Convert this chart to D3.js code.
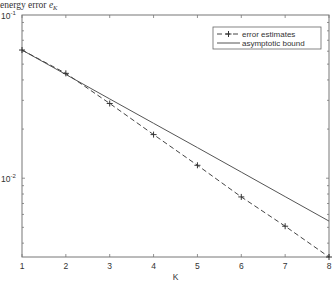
<!DOCTYPE html>
<html>
<head>
<meta charset="utf-8">
<script src="https://cdn.jsdelivr.net/npm/d3@7"></script>
<style>
  body { margin: 0; background: #fff; }
  text { font-family: "Liberation Sans", Arial, sans-serif; fill: #333; }
</style>
</head>
<body>
<svg id="chart" width="333" height="283"></svg>
<script>
// data
const K = [1, 2, 3, 4, 5, 6, 7, 8];
const errorEstimates = [0.0610, 0.0439, 0.0287, 0.0185, 0.0120, 0.00768, 0.00508, 0.00329];
const asymptoticBound = [0.0610, 0.0432, 0.0306, 0.0217, 0.0154, 0.0109, 0.00771, 0.00546];
const yMajor = [0.1, 0.01];
const legendLabels = ["error estimates", "asymptotic bound"];

const svg = d3.select("#chart");
const width = +svg.attr("width");
const height = +svg.attr("height");
const margin = { top: 15, right: 4, bottom: 26, left: 22 };
const x0 = margin.left, x1 = width - margin.right;
const y0 = height - margin.bottom, y1 = margin.top;

const x = d3.scaleLinear().domain([1, 8]).range([x0, x1]);
const y = d3.scaleLog().domain([d3.min(errorEstimates), 0.1]).range([y0, y1]);

const axisColor = "#777";

// minor ticks 1..9 x 10^k inside the domain
const minor = [];
[0.001, 0.01].forEach(base => {
  for (let m = 1; m <= 9; m++) {
    const v = base * m;
    if (v >= y.domain()[0] && v <= y.domain()[1]) minor.push(v);
  }
});

const g = svg.append("g");

// inward ticks, matlab style
const ticks = g.append("g").attr("stroke", axisColor).attr("stroke-width", 0.8);
ticks.selectAll(".xb").data(K).join("line")
  .attr("x1", d => x(d)).attr("x2", d => x(d))
  .attr("y1", y0).attr("y2", y0 - 3);
ticks.selectAll(".xt").data(K).join("line")
  .attr("x1", d => x(d)).attr("x2", d => x(d))
  .attr("y1", y1).attr("y2", y1 + 3);
ticks.selectAll(".yl").data(minor).join("line")
  .attr("x1", x0).attr("x2", d => x0 + (yMajor.includes(+d.toPrecision(3)) ? 3 : 2))
  .attr("y1", d => y(d)).attr("y2", d => y(d));
ticks.selectAll(".yr").data(minor).join("line")
  .attr("x1", x1).attr("x2", d => x1 - (yMajor.includes(+d.toPrecision(3)) ? 3 : 2))
  .attr("y1", d => y(d)).attr("y2", d => y(d));

// box
g.append("rect")
  .attr("x", x0).attr("y", y1)
  .attr("width", x1 - x0).attr("height", y0 - y1)
  .attr("fill", "none").attr("stroke", axisColor).attr("stroke-width", 1);

// x tick labels
g.selectAll(".xl").data(K).join("text")
  .attr("x", d => x(d)).attr("y", y0 + 12)
  .attr("text-anchor", "middle").attr("font-size", 8.5)
  .text(d => d);

g.append("text")
  .attr("x", (x0 + x1) / 2).attr("y", height - 3)
  .attr("text-anchor", "middle").attr("font-size", 8.5)
  .text("K");

// y tick labels 10^-k
const yl = g.selectAll(".ylab").data(yMajor).join("text")
  .attr("x", 1).attr("y", d => y(d) + 3.5)
  .attr("font-size", 8.5);
yl.append("tspan").text("10");
yl.append("tspan").attr("dy", -4).attr("font-size", 6)
  .text(d => "-" + Math.round(-Math.log10(d)));

// y label, serif like matlab latex
const title = g.append("text")
  .attr("x", 0).attr("y", 8)
  .style("font-family", "'Liberation Serif', 'Times New Roman', serif")
  .attr("font-size", 9.5);
title.append("tspan").text("energy error ");
title.append("tspan").style("font-style", "italic").text("e");
title.append("tspan").attr("dy", 2).attr("font-size", 6.5).style("font-style", "italic").text("K");

const line = d3.line().x((d, i) => x(K[i])).y(d => y(d));

svg.append("path").datum(asymptoticBound)
  .attr("d", line).attr("fill", "none")
  .attr("stroke", "#555").attr("stroke-width", 1);

svg.append("path").datum(errorEstimates)
  .attr("d", line).attr("fill", "none")
  .attr("stroke", "#444").attr("stroke-width", 1)
  .attr("stroke-dasharray", "5,3");

svg.selectAll(".mk").data(errorEstimates).join("path")
  .attr("transform", (d, i) => `translate(${x(K[i])},${y(d)})`)
  .attr("d", "M-3,0H3M0,-3V3")
  .attr("stroke", "#333").attr("stroke-width", 1);

// legend
const lg = svg.append("g").attr("transform", "translate(213,27)");
lg.append("rect").attr("width", 108).attr("height", 22)
  .attr("fill", "#fff").attr("stroke", "#666").attr("stroke-width", 0.8);
lg.append("line").attr("x1", 4).attr("x2", 27).attr("y1", 7).attr("y2", 7)
  .attr("stroke", "#444").attr("stroke-dasharray", "5,3");
lg.append("path").attr("transform", "translate(15.5,7)")
  .attr("d", "M-3,0H3M0,-3V3").attr("stroke", "#333");
lg.append("line").attr("x1", 4).attr("x2", 27).attr("y1", 16).attr("y2", 16)
  .attr("stroke", "#555");
lg.selectAll("text").data(legendLabels).join("text")
  .attr("x", 29).attr("y", (d, i) => 10 + i * 9)
  .attr("font-size", 8)
  .text(d => d);
</script>
</body>
</html>
